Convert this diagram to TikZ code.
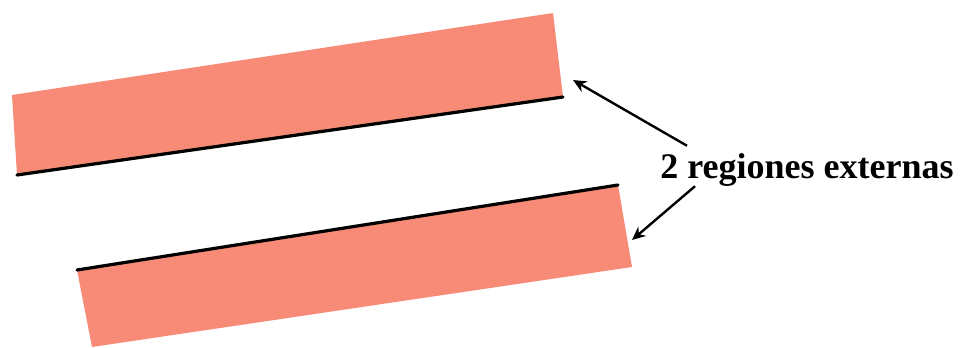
\documentclass[tikz,border=0pt]{standalone}
\usepackage{fontspec}
\setmainfont{Liberation Serif}
\usetikzlibrary{arrows.meta}
\definecolor{regionfill}{RGB}{248,138,120}

\begin{document}
\begin{tikzpicture}[x=0.75pt,y=-0.75pt,
  region/.style={fill=regionfill,draw=none},
  rim/.style={line width=2.4pt,line cap=round},
  pointer/.style={line width=1.8pt,-{Stealth[length=10pt,width=9pt]}}]
% frame
\useasboundingbox (0,0) rectangle (963,347);
% upper region
\fill[region] (12,95) -- (553,13) -- (563,97) -- (17,175) -- cycle;
\draw[rim] (17,175) -- (563,97);
% lower region
\fill[region] (77,270) -- (618,185) -- (632,267) -- (92,347) -- cycle;
\draw[rim] (77,270) -- (618,185);
% label and pointers
\node[font=\bfseries\fontsize{27}{31}\selectfont,anchor=base west,inner sep=0pt] (lbl) at (660,178) {2 regiones externas};
\coordinate (utip) at (573,80);
\coordinate (ltip) at (632,240);
\draw[pointer] ([shift={(27,-7)}]lbl.north west) -- (utip);
\draw[pointer] ([shift={(35,0)}]lbl.south west) -- (ltip);
\end{tikzpicture}
\end{document}
